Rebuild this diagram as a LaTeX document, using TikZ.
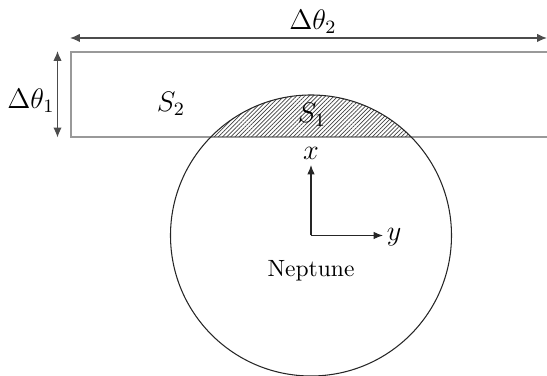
\documentclass[tikz,border=0pt]{standalone}
\usetikzlibrary{arrows.meta,patterns.meta}
\begin{document}
\begin{tikzpicture}[x=0.425pt,y=-0.425pt,
  dimarrow/.style={draw=black!70,line width=0.6pt,{Latex[length=4.2pt,width=3.6pt]}-{Latex[length=4.2pt,width=3.6pt]}},
  axisarrow/.style={draw=black!85,line width=0.45pt,-{Latex[length=4pt,width=3.2pt]}},
  lbl/.style={inner sep=0pt,font=\large}]
\clip (0,0) rectangle (547,376);
% rectangle strip
\coordinate (rtl) at (71,52);
\coordinate (rbr) at (580,137);
\draw[black!40,line width=0.5pt] (rtl) rectangle (rbr);
% hatched cap of circle above the strip's bottom edge
\begin{scope}
  \clip (0,0) rectangle (547,137);
  \fill[pattern={Lines[angle=45,distance=1.25pt,line width=0.3pt]},pattern color=black!75] (311,235.5) circle[radius=140.5];
\end{scope}
\node[circle,draw=black!85,line width=0.45pt,minimum size=281*0.425pt,inner sep=0pt] (nep) at (311,235.5) {};
% dimension arrows
\coordinate (h1) at (70,38);
\coordinate (h2) at (547,38);
\draw[dimarrow] (h1) -- (h2);
\coordinate (v1) at (57.5,51);
\coordinate (v2) at (57.5,137.5);
\draw[dimarrow] (v1) -- (v2);
% axes
\coordinate (o) at (311,235.5);
\coordinate (xt) at (311,165);
\coordinate (yt) at (383,235.5);
\draw[axisarrow] (o) -- (xt);
\draw[axisarrow] (o) -- (yt);
% labels
\node[lbl] (dt2) at (313,22) {$\Delta\theta_2$};
\node[lbl] (dt1) at (31,101) {$\Delta\theta_1$};
\node[lbl] (s2) at (171,104) {$S_2$};
\node[lbl] (s1) at (312,115) {$S_1$};
\node[lbl] (xl) at (311,153) {$x$};
\node[lbl] (yl) at (394,237) {$y$};
\node[inner sep=0pt] (nl) at (311,271) {Neptune};
\end{tikzpicture}
\end{document}
